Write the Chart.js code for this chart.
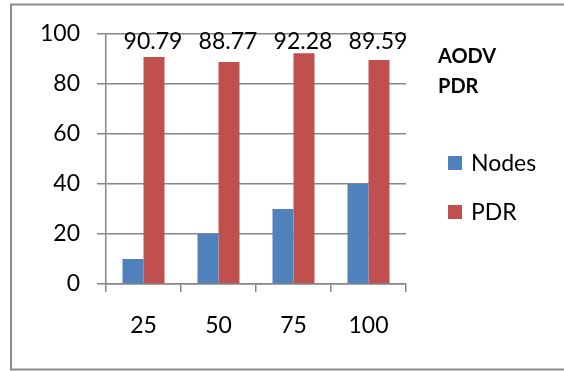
<!DOCTYPE html>
<html>
<head>
<meta charset="utf-8">
<script src="https://cdn.jsdelivr.net/npm/chart.js@4.4.1/dist/chart.umd.min.js"></script>
<style>
  html, body { margin: 0; padding: 0; background: #ffffff; }
  #wrap { width: 564px; height: 371px; }
</style>
</head>
<body>
<div id="wrap"><canvas id="c" width="564" height="371"></canvas></div>
<script>
// Chart data
const nodeCounts = ['25', '50', '75', '100'];
const nodesSeries = [10, 20, 30, 40];
const pdrSeries = [90.79, 88.77, 92.28, 89.59];
const seriesNames = ['Nodes', 'PDR'];
const titleLines = ['AODV', 'PDR'];
const yTicks = [0, 20, 40, 60, 80, 100];

const FONT = 'Lato, "Open Sans", sans-serif';
const GRID = '#868686';

// Outer frame drawn around the whole chart
const framePlugin = {
  id: 'frame',
  beforeDraw(chart) {
    const ctx = chart.ctx;
    ctx.save();
    ctx.strokeStyle = '#8c8c8c';
    ctx.lineWidth = 2;
    ctx.beginPath();
    ctx.moveTo(chart.width, 4.5);
    ctx.lineTo(11, 4.5);
    ctx.lineTo(11, 369.5);
    ctx.lineTo(chart.width, 369.5);
    ctx.stroke();
    ctx.restore();
  }
};

// Value labels for the PDR series, set in a row near the top of the plot
const valueLabelPlugin = {
  id: 'valueLabels',
  afterDatasetsDraw(chart) {
    const ctx = chart.ctx;
    const meta = chart.getDatasetMeta(1);
    const top = chart.chartArea.top;
    ctx.save();
    ctx.font = '23px ' + FONT;
    ctx.fillStyle = '#000';
    ctx.textAlign = 'center';
    ctx.textBaseline = 'alphabetic';
    meta.data.forEach((bar, i) => {
      const v = chart.data.datasets[1].data[i];
      ctx.fillText(v.toFixed(2), bar.x - 1, top + 14.5);
    });
    ctx.restore();
  }
};

// Title block and legend on the right
const sideLegendPlugin = {
  id: 'sideLegend',
  afterDraw(chart) {
    const ctx = chart.ctx;
    ctx.save();
    ctx.fillStyle = '#000';
    ctx.textAlign = 'left';
    ctx.textBaseline = 'alphabetic';
    ctx.font = 'bold 20px ' + FONT;
    titleLines.forEach((t, i) => ctx.fillText(t, 438, 63 + i * 30));

    ctx.font = '23px ' + FONT;
    ctx.textBaseline = 'middle';
    chart.data.datasets.forEach((ds, i) => {
      const cy = 163 + i * 49;
      ctx.fillStyle = ds.backgroundColor;
      ctx.fillRect(448, cy - 7, 14, 14);
      ctx.fillStyle = '#000';
      ctx.fillText(ds.label, 471, cy + 1);
    });
    ctx.restore();
  }
};

new Chart(document.getElementById('c'), {
  type: 'bar',
  data: {
    labels: nodeCounts,
    datasets: [
      { label: seriesNames[0], data: nodesSeries, backgroundColor: '#4F81BD' },
      { label: seriesNames[1], data: pdrSeries, backgroundColor: '#C0504D' }
    ]
  },
  options: {
    responsive: false,
    animation: false,
    devicePixelRatio: 1,
    layout: { padding: { left: 0, top: 34, right: 158, bottom: 0 } },
    categoryPercentage: 0.56,
    barPercentage: 1.0,
    plugins: {
      legend: { display: false },
      title: { display: false },
      tooltip: { enabled: false }
    },
    scales: {
      x: {
        afterFit(scale) { scale.height = 87; },
        grid: {
          offset: true,
          drawOnChartArea: false,
          drawTicks: true,
          tickLength: 8,
          color: GRID,
          lineWidth: 1.5
        },
        border: { color: GRID, width: 1.5 },
        ticks: {
          color: '#000',
          font: { family: FONT, size: 23 },
          padding: 20,
          maxRotation: 0
        }
      },
      y: {
        min: 0,
        max: 100,
        afterFit(scale) { scale.width = 106; },
        afterBuildTicks(scale) { scale.ticks = yTicks.map(v => ({ value: v })); },
        grid: {
          color: GRID,
          lineWidth: 1.5,
          drawTicks: true,
          tickLength: 9
        },
        border: { color: GRID, width: 1.5 },
        ticks: {
          color: '#000',
          font: { family: FONT, size: 23 },
          padding: 17
        }
      }
    }
  },
  plugins: [framePlugin, valueLabelPlugin, sideLegendPlugin]
});
</script>
</body>
</html>
